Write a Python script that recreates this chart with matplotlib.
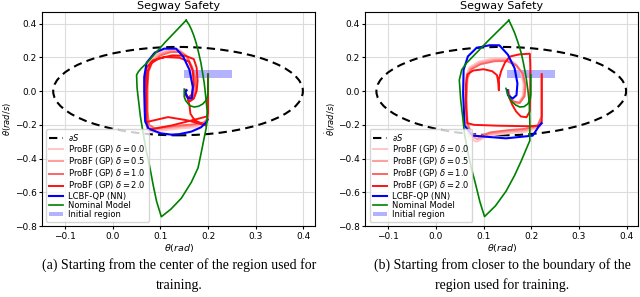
import numpy as np
import matplotlib
matplotlib.use("Agg")
import matplotlib.pyplot as plt
from matplotlib.patches import Ellipse
from matplotlib.lines import Line2D

# Safe set boundary and initial region
safe_center = (0.137, 0.0)
safe_width = 0.524
safe_height = 0.524
init_x = [0.15, 0.25]
init_lo = [0.075, 0.075]
init_hi = [0.125, 0.125]

deltas = ["0.0", "0.5", "1.0", "2.0"]
delta_colors = ["#ffc6c6", "#ff9e9e", "#ff6464", "#ff1010"]

# ---------- (a) start from the center of the region ----------
a_pink_x = [
    [0.200, 0.200, 0.194, 0.172, 0.140, 0.108, 0.084, 0.072, 0.069, 0.069, 0.071, 0.079, 0.096, 0.118, 0.138, 0.152, 0.163, 0.170, 0.170, 0.165, 0.157, 0.152, 0.154],
    [0.200, 0.200, 0.193, 0.170, 0.140, 0.110, 0.086, 0.074, 0.071, 0.071, 0.073, 0.081, 0.098, 0.120, 0.140, 0.154, 0.165, 0.172, 0.172, 0.166, 0.158, 0.152, 0.154],
    [0.200, 0.200, 0.192, 0.168, 0.140, 0.112, 0.088, 0.076, 0.073, 0.073, 0.075, 0.083, 0.100, 0.122, 0.142, 0.156, 0.167, 0.174, 0.174, 0.168, 0.159, 0.153, 0.154],
]
a_pink_y = [
    [0.100, -0.160, -0.195, -0.215, -0.222, -0.232, -0.242, -0.220, -0.120, 0.020, 0.120, 0.185, 0.228, 0.248, 0.248, 0.218, 0.150, 0.070, 0.000, -0.048, -0.048, -0.015, 0.008],
    [0.100, -0.160, -0.190, -0.205, -0.212, -0.222, -0.230, -0.210, -0.120, 0.020, 0.118, 0.178, 0.220, 0.240, 0.240, 0.210, 0.145, 0.068, 0.000, -0.046, -0.046, -0.014, 0.008],
    [0.100, -0.160, -0.185, -0.198, -0.204, -0.212, -0.220, -0.200, -0.120, 0.020, 0.115, 0.172, 0.212, 0.232, 0.232, 0.204, 0.140, 0.066, 0.000, -0.044, -0.044, -0.013, 0.008],
]
a_red_x = [0.200, 0.200, 0.198, 0.165, 0.123, 0.074, 0.071, 0.071, 0.074, 0.081, 0.097, 0.125, 0.152, 0.170, 0.176, 0.178, 0.176, 0.170, 0.162, 0.158, 0.161, 0.163, 0.172, 0.189, 0.196, 0.158, 0.116, 0.070, 0.068, 0.068, 0.071, 0.084, 0.110, 0.140, 0.160, 0.168, 0.170, 0.166, 0.158, 0.152, 0.152]
a_red_y = [0.100, -0.130, -0.150, -0.174, -0.204, -0.230, -0.180, 0.000, 0.120, 0.165, 0.195, 0.212, 0.210, 0.190, 0.140, 0.060, 0.000, -0.045, -0.060, -0.050, -0.084, -0.134, -0.174, -0.194, -0.204, -0.174, -0.154, -0.184, -0.100, 0.050, 0.140, 0.182, 0.202, 0.198, 0.175, 0.120, 0.040, -0.020, -0.040, -0.020, 0.005]
a_blue_x = [0.199, 0.196, 0.185, 0.165, 0.140, 0.123, 0.100, 0.075, 0.068, 0.067, 0.066, 0.066, 0.071, 0.088, 0.108, 0.133, 0.148, 0.161, 0.168, 0.166, 0.158, 0.152, 0.155]
a_blue_y = [-0.170, -0.186, -0.215, -0.240, -0.255, -0.258, -0.250, -0.222, -0.180, -0.114, 0.000, 0.084, 0.168, 0.228, 0.252, 0.252, 0.204, 0.126, 0.024, -0.042, -0.042, -0.006, 0.005]
a_nom_x = [0.154, 0.160, 0.165, 0.170, 0.175, 0.180, 0.185, 0.189, 0.192, 0.195, 0.198, 0.198, 0.196, 0.192, 0.186, 0.179, 0.165, 0.144, 0.122, 0.102,
           0.097, 0.092, 0.085, 0.078, 0.070, 0.064, 0.058, 0.054, 0.051, 0.050, 0.054, 0.060, 0.071, 0.110, 0.154]
a_nom_y = [0.420, 0.395, 0.366, 0.330, 0.286, 0.230, 0.168, 0.100, 0.048, -0.030, -0.114, -0.174, -0.220, -0.275, -0.360, -0.455, -0.540, -0.635, -0.700, -0.745,
           -0.700, -0.654, -0.560, -0.454, -0.350, -0.252, -0.150, -0.054, 0.020, 0.096, 0.116, 0.136, 0.166, 0.290, 0.420]
a_curl_x = [0.200, 0.200, 0.199, 0.196, 0.189, 0.180, 0.171, 0.163, 0.158, 0.153, 0.150, 0.150]
a_curl_y = [0.100, 0.000, -0.030, -0.054, -0.076, -0.090, -0.094, -0.088, -0.074, -0.056, -0.034, 0.012]

# ---------- (b) start closer to the boundary ----------
b_pink_x = [
    [0.222, 0.222, 0.215, 0.190, 0.150, 0.110, 0.085, 0.070, 0.062, 0.060, 0.062, 0.070, 0.090, 0.120, 0.145, 0.165, 0.178, 0.184, 0.182, 0.172, 0.160, 0.153, 0.152],
    [0.222, 0.222, 0.214, 0.188, 0.150, 0.112, 0.087, 0.072, 0.064, 0.062, 0.064, 0.072, 0.092, 0.122, 0.147, 0.167, 0.180, 0.186, 0.184, 0.174, 0.161, 0.154, 0.152],
    [0.222, 0.222, 0.213, 0.186, 0.150, 0.114, 0.089, 0.074, 0.066, 0.064, 0.066, 0.074, 0.094, 0.124, 0.149, 0.169, 0.182, 0.188, 0.186, 0.176, 0.162, 0.155, 0.152],
]
b_pink_y = [
    [0.100, -0.150, -0.215, -0.240, -0.250, -0.265, -0.300, -0.280, -0.200, -0.050, 0.080, 0.140, 0.175, 0.195, 0.195, 0.168, 0.115, 0.040, -0.030, -0.075, -0.065, -0.030, 0.005],
    [0.100, -0.150, -0.210, -0.232, -0.240, -0.255, -0.285, -0.265, -0.195, -0.050, 0.078, 0.135, 0.168, 0.186, 0.186, 0.160, 0.110, 0.038, -0.030, -0.072, -0.062, -0.030, 0.005],
    [0.100, -0.150, -0.205, -0.224, -0.232, -0.245, -0.270, -0.250, -0.190, -0.050, 0.076, 0.130, 0.160, 0.178, 0.178, 0.152, 0.105, 0.036, -0.030, -0.070, -0.060, -0.030, 0.005],
]
b_red_x = [0.222, 0.222, 0.218, 0.190, 0.130, 0.080, 0.066, 0.063, 0.063, 0.066, 0.078, 0.100, 0.118, 0.128, 0.131, 0.132, 0.132, 0.137, 0.145, 0.155, 0.175, 0.197, 0.198, 0.198, 0.197, 0.190, 0.178, 0.168, 0.160, 0.154, 0.150]
b_red_y = [0.100, -0.180, -0.205, -0.208, -0.205, -0.200, -0.190, -0.100, 0.040, 0.100, 0.122, 0.130, 0.118, 0.095, 0.050, 0.005, 0.070, 0.120, 0.170, 0.205, 0.218, 0.222, 0.150, 0.000, -0.120, -0.155, -0.150, -0.120, -0.080, -0.040, 0.000]
b_blue_x = [0.222, 0.217, 0.203, 0.147, 0.077, 0.060, 0.057, 0.058, 0.067, 0.085, 0.112, 0.133, 0.151, 0.165, 0.171, 0.169, 0.161, 0.151, 0.150]
b_blue_y = [-0.190, -0.204, -0.264, -0.280, -0.264, -0.204, -0.014, 0.126, 0.206, 0.256, 0.272, 0.272, 0.216, 0.136, 0.046, -0.024, -0.044, -0.024, 0.006]
b_nom_x = [0.153, 0.159, 0.165, 0.172, 0.179, 0.184, 0.189, 0.193, 0.196, 0.197, 0.197, 0.190, 0.179, 0.165, 0.147, 0.125, 0.102,
           0.097, 0.092, 0.083, 0.074, 0.066, 0.060, 0.056, 0.052, 0.049, 0.054, 0.064, 0.110, 0.153]
b_nom_y = [0.420, 0.385, 0.346, 0.290, 0.226, 0.160, 0.086, 0.005, -0.074, -0.180, -0.294, -0.340, -0.414, -0.500, -0.594, -0.680, -0.744,
           -0.700, -0.654, -0.550, -0.454, -0.350, -0.254, -0.150, -0.054, 0.066, 0.126, 0.166, 0.300, 0.420]
b_curl_x = [0.199, 0.199, 0.198, 0.193, 0.185, 0.176, 0.168, 0.160, 0.154, 0.150, 0.147]
b_curl_y = [0.096, -0.020, -0.045, -0.075, -0.092, -0.094, -0.084, -0.064, -0.040, -0.012, 0.016]

captions = [
    ["(a) Starting from the center of the region used for", "training."],
    ["(b) Starting from closer to the boundary of the", "region used for training."],
]

panels = [
    (a_pink_x, a_pink_y, a_red_x, a_red_y, a_blue_x, a_blue_y, a_nom_x, a_nom_y, a_curl_x, a_curl_y),
    (b_pink_x, b_pink_y, b_red_x, b_red_y, b_blue_x, b_blue_y, b_nom_x, b_nom_y, b_curl_x, b_curl_y),
]

fig = plt.figure(figsize=(6.4, 2.97), dpi=100)
lefts = [0.066, 0.571]
for k, p in enumerate(panels):
    pink_x, pink_y, red_x, red_y, blue_x, blue_y, nom_x, nom_y, curl_x, curl_y = p
    ax = fig.add_axes([lefts[k], 0.239, 0.4266, 0.721])
    ax.grid(True, color="#dcdcdc", lw=0.8)
    ax.set_axisbelow(True)

    ell = Ellipse(safe_center, safe_width, safe_height, fill=False, ec="black",
                  ls=(0, (4, 2.5)), lw=1.5)
    ax.add_patch(ell)
    handles = [Line2D([], [], color="black", ls=(0, (4, 2.5)), lw=1.5)]
    labels = [r"$\partial S$"]

    for i in range(3):
        h, = ax.plot(pink_x[i], pink_y[i], color=delta_colors[i], lw=1.4)
        handles.append(h)
        labels.append(r"ProBF (GP) $\delta = %s$" % deltas[i])
    h, = ax.plot(red_x, red_y, color=delta_colors[3], lw=1.4)
    handles.append(h)
    labels.append(r"ProBF (GP) $\delta = %s$" % deltas[3])

    h, = ax.plot(blue_x, blue_y, color="blue", lw=1.5)
    handles.append(h)
    labels.append("LCBF-QP (NN)")

    h, = ax.plot(nom_x, nom_y, color="green", lw=1.2)
    ax.plot(curl_x, curl_y, color="green", lw=1.2)
    handles.append(h)
    labels.append("Nominal Model")

    h = ax.fill_between(init_x, init_lo, init_hi, color="blue", alpha=0.3, lw=0)
    handles.append(h)
    labels.append("Initial region")

    ax.set_xlim(-0.148, 0.425)
    ax.set_ylim(-0.8, 0.47)
    ax.set_xticks([-0.1, 0.0, 0.1, 0.2, 0.3, 0.4])
    ax.set_yticks([-0.8, -0.6, -0.4, -0.2, 0.0, 0.2, 0.4])
    ax.tick_params(labelsize=6.5, length=2.5, width=0.8, pad=1.5)
    ax.set_xlabel(r"$\theta(rad)$", fontsize=6.8, labelpad=1)
    ax.set_ylabel(r"$\dot{\theta}(rad/s)$", fontsize=6)
    ax.yaxis.set_label_coords(-0.102, 0.5)
    ax.set_title("Segway Safety", fontsize=8, pad=2)
    ax.legend(handles, labels, loc="lower left", fontsize=6, labelspacing=0.02,
              handlelength=1.7, handletextpad=0.6, handleheight=0.5,
              borderpad=0.35, framealpha=0.8)

    cx = lefts[k] + 0.2133
    fig.text(cx, 0.108, captions[k][0], ha="center", va="center",
             family="Liberation Serif", fontsize=10)
    fig.text(cx, 0.040, captions[k][1], ha="center", va="center",
             family="Liberation Serif", fontsize=10)

fig.savefig("out.png", dpi=100)
